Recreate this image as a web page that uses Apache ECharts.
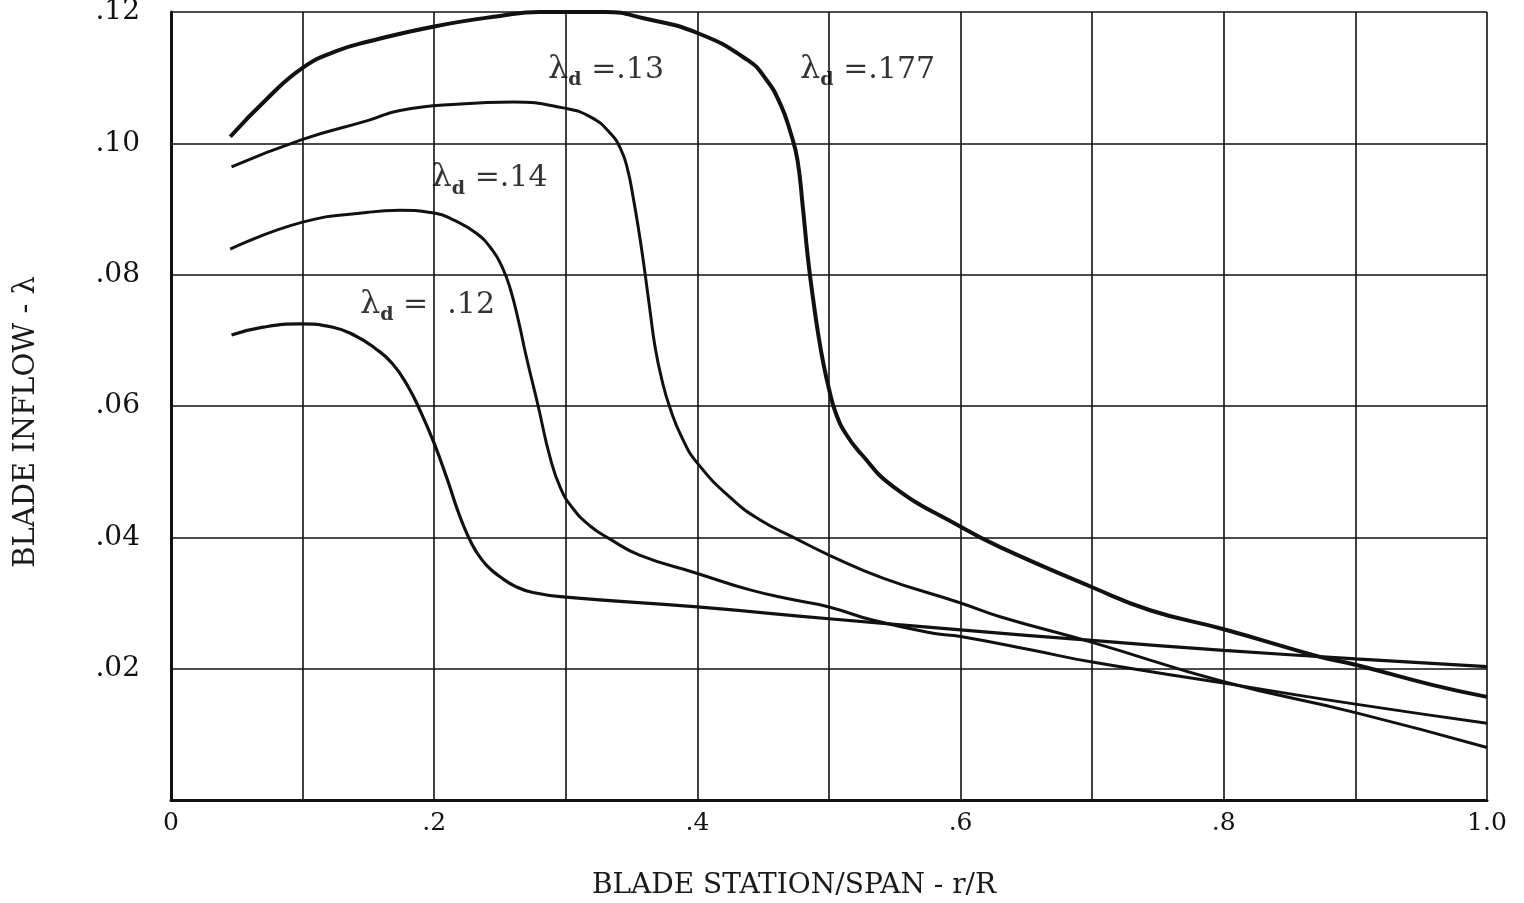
<!DOCTYPE html>
<html>
<head>
<meta charset="utf-8">
<script src="https://cdn.jsdelivr.net/npm/echarts@6/dist/echarts.min.js"></script>
<style>
html,body{margin:0;padding:0;background:#fff;}
#chart{width:1524px;height:903px;}
</style>
</head>
<body>
<div id="chart"></div>
<script>
// r/R vs blade inflow lambda, for each design inflow lambda_d
const curve177 = [[0.045,0.1010],[0.073,0.1068],[0.1,0.1115],[0.125,0.1140],[0.15,0.1155],[0.2,0.1178],[0.25,0.1194],[0.28,0.1200],[0.33,0.1200],[0.36,0.1190],[0.4,0.1168],[0.438,0.1127],[0.452,0.1098],[0.463,0.1060],[0.471,0.1015],[0.476,0.0975],[0.480,0.0905],[0.484,0.0825],[0.488,0.0762],[0.492,0.0707],[0.496,0.0662],[0.500,0.0626],[0.505,0.0590],[0.513,0.0557],[0.524,0.0528],[0.549,0.0477],[0.6,0.0416],[0.63,0.0385],[0.7,0.0324],[0.744,0.0289],[0.8,0.0260],[0.873,0.0218],[0.9,0.0206],[0.959,0.0175],[1.0,0.0157]];
const curve13 = [[0.046,0.0964],[0.1,0.1006],[0.15,0.1035],[0.174,0.1050],[0.22,0.1060],[0.26,0.1063],[0.298,0.1054],[0.319,0.1040],[0.334,0.1015],[0.342,0.0990],[0.347,0.0960],[0.351,0.0920],[0.356,0.0860],[0.360,0.0805],[0.364,0.0745],[0.368,0.0688],[0.373,0.0640],[0.379,0.0598],[0.388,0.0553],[0.4,0.0513],[0.427,0.0457],[0.448,0.0426],[0.473,0.0400],[0.5,0.0373],[0.541,0.0338],[0.6,0.0300],[0.63,0.0279],[0.7,0.0240],[0.8,0.0180],[0.9,0.0133],[1.0,0.0080]];
const curve14 = [[0.045,0.0839],[0.1,0.0880],[0.15,0.0895],[0.174,0.0898],[0.2,0.0894],[0.215,0.0883],[0.232,0.0863],[0.244,0.0838],[0.252,0.0810],[0.258,0.0777],[0.264,0.0730],[0.270,0.0675],[0.279,0.0600],[0.288,0.0522],[0.296,0.0475],[0.305,0.0445],[0.318,0.0418],[0.333,0.0398],[0.356,0.0373],[0.4,0.0345],[0.44,0.0320],[0.473,0.0305],[0.5,0.0294],[0.533,0.0274],[0.579,0.0254],[0.6,0.0249],[0.655,0.0228],[0.7,0.0210],[0.8,0.0178],[0.9,0.0146],[1.0,0.0117]];
const curve12 = [[0.046,0.0708],[0.07,0.0720],[0.098,0.0725],[0.123,0.0720],[0.140,0.0707],[0.155,0.0688],[0.168,0.0665],[0.180,0.0630],[0.190,0.0590],[0.200,0.0543],[0.210,0.0488],[0.218,0.0440],[0.225,0.0405],[0.232,0.0378],[0.240,0.0357],[0.250,0.0340],[0.262,0.0325],[0.275,0.0316],[0.3,0.0309],[0.4,0.0294],[0.5,0.0276],[0.6,0.0259],[0.7,0.0243],[0.8,0.0228],[0.9,0.0215],[1.0,0.0203]];

const xTickLabels = {'0':'0','0.2':'.2','0.4':'.4','0.6':'.6','0.8':'.8','1':'1.0'};
const yTickLabels = {'0.02':'.02','0.04':'.04','0.06':'.06','0.08':'.08','0.1':'.10','0.12':'.12'};

// curve annotations: [x, y, design value text]
const annotations = [[0.478,0.1112,' =.177'],[0.2865,0.1112,' =.13'],[0.198,0.0947,' =.14'],[0.1436,0.0754,' =  .12']];

const FONT = 'DejaVu Serif';
const chart = echarts.init(document.getElementById('chart'), null, {renderer:'canvas'});

function lineSeries(data, w){
  return {type:'line', data:data, showSymbol:false, symbol:'none', smooth:0.5,
    lineStyle:{color:'#111', width:w}, z:5, silent:true};
}

chart.setOption({
  animation:false,
  backgroundColor:'#fff',
  grid:{left:171, right:37, top:12, bottom:103, show:false, containLabel:false, outerBoundsMode:'none'},
  xAxis:{type:'value', min:0, max:1, interval:0.1,
    name:'BLADE STATION/SPAN - r/R', nameLocation:'middle', nameGap:72,
    nameTextStyle:{fontFamily:FONT, fontSize:28, color:'#1a1a1a', padding:[0,70,0,0]},
    axisLine:{show:true, onZero:false, lineStyle:{color:'#111', width:3}},
    axisTick:{show:false},
    axisLabel:{margin:11, fontFamily:FONT, fontSize:25, color:'#111',
      formatter:function(v){ const k = String(+v.toFixed(1)); return xTickLabels[k] || ''; }},
    splitLine:{show:true, lineStyle:{color:'#111', width:1.6}}
  },
  yAxis:{type:'value', min:0, max:0.12, interval:0.02,
    name:'BLADE INFLOW - λ', nameLocation:'middle', nameGap:130, nameRotate:90,
    nameTextStyle:{fontFamily:FONT, fontSize:29, color:'#1a1a1a', padding:[0,32,0,0]},
    axisLine:{show:true, onZero:false, lineStyle:{color:'#111', width:3}},
    axisTick:{show:false},
    axisLabel:{margin:31, fontFamily:FONT, fontSize:28, color:'#111',
      formatter:function(v){ const k = String(+v.toFixed(2)); return yTickLabels[k] || ''; }},
    splitLine:{show:true, lineStyle:{color:'#111', width:1.6}}
  },
  series:[
    lineSeries(curve177, 4),
    lineSeries(curve13, 3),
    lineSeries(curve14, 3),
    lineSeries(curve12, 3.2),
    {type:'scatter', symbolSize:0, silent:true, z:6,
      data: annotations.map(a => ({value:[a[0], a[1]], txt:a[2]})),
      label:{show:true, position:'right', distance:0,
        formatter:function(p){ return '{l|λ}{s|d}{t|' + p.data.txt + '}'; },
        rich:{
          l:{fontFamily:FONT, fontSize:32, color:'#000', lineHeight:40, verticalAlign:'middle'},
          s:{fontFamily:FONT, fontSize:19, fontWeight:'bold', color:'#000', lineHeight:22, verticalAlign:'bottom'},
          t:{fontFamily:FONT, fontSize:30, color:'#000', lineHeight:40, verticalAlign:'middle'}
        }}
    }
  ]
});
</script>
</body>
</html>
